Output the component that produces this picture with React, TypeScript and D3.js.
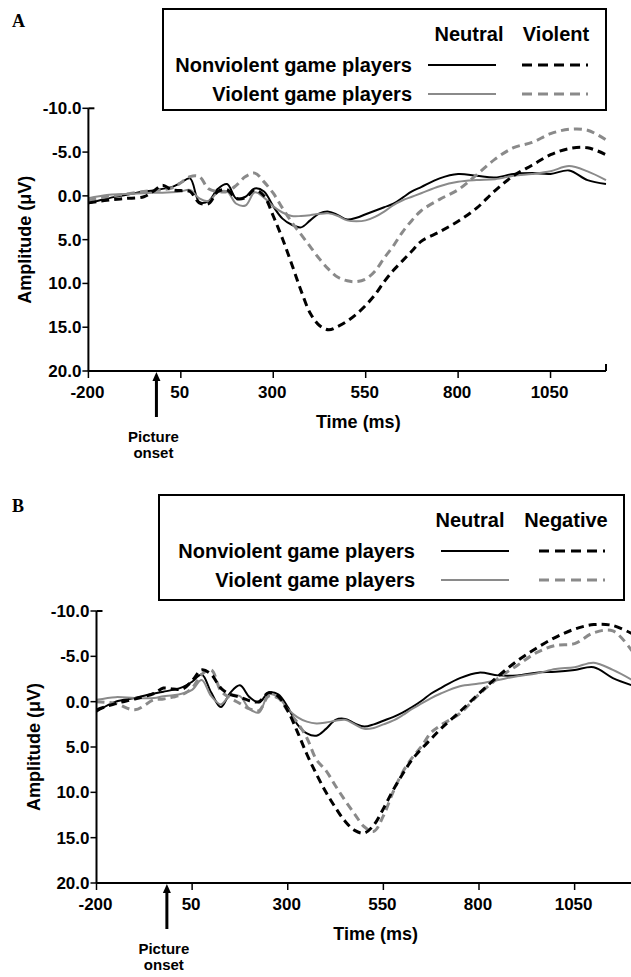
import React from 'react';
import * as d3 from 'd3';

// time grid (ms) shared by all traces
const times = [-200, -150, -100, -50, -25, 0, 25, 50, 75, 100, 125, 150, 175, 200, 225, 250, 275, 300, 325, 350,
  375, 400, 425, 450, 475, 500, 525, 550, 575, 600, 625, 650, 675, 700, 750, 800, 850, 900, 950, 1000, 1050, 1100, 1150, 1200];

const xTicks = [-200, 50, 300, 550, 800, 1050];
const yTicks = [-10, -5, 0, 5, 10, 15, 20];

// Panel A
const aNonviolentNeutral = [0.85, 0.3, -0.1, -0.5, -0.6, -0.8, -1.0, -1.5, -2.0, 0.7, 0.6, -0.8, -1.35, 0.3, 0.1, -0.85,
  -0.5, 1.2, 2.6, 3.3, 3.6, 2.8, 2.0, 1.8, 2.2, 2.7, 2.5, 2.1, 1.7, 1.3, 0.9, 0.2, -0.5, -1.0, -2.0, -2.5, -2.3, -2.1,
  -2.5, -2.6, -2.5, -2.9, -1.8, -1.35];
const aViolentNeutral = [0.27, -0.1, -0.2, -0.3, -0.35, -0.35, -0.4, -0.5, -0.67, 0.3, 0.6, -0.4, -0.5, 0.9, 1.1, -0.4,
  0.2, 1.2, 1.9, 2.3, 2.3, 2.2, 2.05, 2.0, 2.3, 2.8, 2.9, 2.8, 2.4, 1.8, 1.05, 0.5, 0.1, -0.3, -1.1, -1.6, -1.8, -1.9,
  -2.3, -2.5, -2.8, -3.4, -2.8, -1.8];
const aNonviolentViolent = [0.8, 0.5, 0.3, 0.1, -0.5, -1.2, -0.7, -0.6, -0.5, 0.8, 0.9, -0.5, -0.7, 0.3, 0.2, -0.7,
  0.0, 2.3, 4.9, 7.8, 10.8, 13.4, 14.8, 15.3, 14.9, 14.3, 13.5, 12.5, 11.3, 9.8, 8.5, 7.4, 6.3, 5.2, 4.1, 2.9, 1.4,
  -0.6, -2.3, -3.5, -4.7, -5.4, -5.5, -4.7];
const aViolentViolent = [0.5, 0.1, -0.2, -0.5, -0.6, -0.7, -0.9, -1.5, -2.2, -2.2, -0.8, -0.5, -0.5, -1.2, -2.2, -2.6,
  -1.6, -0.3, 1.4, 3.0, 4.4, 5.8, 7.2, 8.4, 9.3, 9.7, 9.8, 9.5, 8.6, 7.1, 5.7, 4.1, 2.8, 1.7, 0.4, -0.7, -2.4, -4.2,
  -5.5, -6.1, -7.1, -7.6, -7.5, -6.4];

// Panel B
const bNonviolentNeutral = [1.1, 0.0, -0.4, -0.9, -1.1, -1.3, -1.6, -2.2, -3.0, -1.0, 0.6, -1.0, -1.8, -0.5, 0.1, -1.0,
  -0.8, 0.6, 2.5, 3.5, 3.75, 3.0, 2.0, 1.9, 2.4, 2.75, 2.5, 2.1, 1.7, 1.2, 0.6, -0.1, -0.9, -1.5, -2.6, -3.2, -2.9, -2.9,
  -3.2, -3.3, -3.5, -3.8, -2.6, -1.8];
const bViolentNeutral = [-0.2, -0.5, -0.4, -0.4, -0.6, -0.7, -0.9, -1.3, -2.4, -0.6, 0.3, -0.7, -0.6, 0.8, 1.2, -0.8,
  -0.5, 0.8, 1.7, 2.2, 2.4, 2.3, 2.1, 2.0, 2.5, 3.0, 2.9, 2.5, 2.1, 1.5, 0.8, 0.2, -0.4, -0.9, -1.7, -2.0, -2.4, -2.8,
  -3.1, -3.6, -3.8, -4.3, -3.5, -2.4];
const bNonviolentNegative = [0.9, 0.2, -0.3, -0.9, -1.5, -1.4, -1.4, -2.3, -3.5, -3.0, -1.5, -0.8, -0.5, -0.1, 0.0, -1.0,
  -0.6, 1.0, 3.3, 5.8, 8.0, 10.0, 11.7, 13.2, 14.2, 14.5, 13.6, 11.8, 9.8, 8.0, 6.4, 5.2, 4.1, 3.0, 1.1, -0.9, -2.8,
  -4.5, -5.9, -7.1, -8.0, -8.5, -8.4, -7.5];
const bViolentNegative = [0.0, 0.2, 0.9, -0.2, -0.3, -0.5, -0.8, -1.5, -3.0, -3.5, -1.2, -0.4, 0.2, 0.8, 1.0, -0.6,
  -0.4, 1.0, 2.3, 4.0, 6.4, 7.6, 9.3, 10.9, 12.4, 13.8, 14.3, 12.6, 10.0, 7.8, 6.2, 4.9, 3.4, 2.6, 1.3, -0.8, -2.6,
  -4.0, -5.4, -6.2, -6.4, -7.6, -7.8, -5.6];

const BLACK = '#000';
const GRAY = '#8a8a8a';
const FONT = '"Liberation Sans", Arial, sans-serif';

type Series = { values: number[]; color: string; dashed: boolean };

type PanelProps = {
  letter: string;
  top: number;
  x0: number; x1: number;
  y0: number; y1: number;
  box: { x: number; y: number; w: number; h: number };
  labelRight: number;
  headNeutral: number; headOther: number; otherLabel: string;
  solidMid: number; dashMid: number;
  series: Series[];
};

function Panel(p: PanelProps) {
  const x = d3.scaleLinear().domain([-200, 1200]).range([p.x0, p.x1]);
  const y = d3.scaleLinear().domain([-10, 20]).range([p.y0, p.y1]);
  const line = d3.line<number>()
    .x((_, i) => x(times[i]))
    .y(d => y(d))
    .curve(d3.curveCatmullRom.alpha(0.5));
  const b = p.box;
  const row1 = b.y + 56;
  const row2 = b.y + 85;
  const onset = x(-16);
  const yBase = y(20);
  return (
    <g fontFamily={FONT} fontWeight="bold">
      <text x={12} y={p.top} fontFamily='"Liberation Serif", serif' fontSize={18}>{p.letter}</text>
      {p.series.map((s, i) => (
        <path key={i} d={line(s.values) || ''} fill="none" stroke={s.color}
          strokeWidth={s.dashed ? 3 : 2} strokeDasharray={s.dashed ? '8,5' : undefined} />
      ))}
      <rect x={b.x} y={b.y} width={b.w} height={b.h} fill="none" stroke="#000" strokeWidth={2} />
      <text x={p.headNeutral} y={b.y + 32} fontSize={20} textAnchor="middle">Neutral</text>
      <text x={p.headOther} y={b.y + 32} fontSize={20} textAnchor="middle">{p.otherLabel}</text>
      <text x={p.labelRight} y={row1 + 7} fontSize={20} textAnchor="end">Nonviolent game players</text>
      <text x={p.labelRight} y={row2 + 7} fontSize={20} textAnchor="end">Violent game players</text>
      <line x1={p.solidMid - 34} x2={p.solidMid + 34} y1={row1} y2={row1} stroke={BLACK} strokeWidth={2} />
      <line x1={p.dashMid - 33} x2={p.dashMid + 33} y1={row1} y2={row1} stroke={BLACK} strokeWidth={3} strokeDasharray="10,6" />
      <line x1={p.solidMid - 34} x2={p.solidMid + 34} y1={row2} y2={row2} stroke={GRAY} strokeWidth={2} />
      <line x1={p.dashMid - 33} x2={p.dashMid + 33} y1={row2} y2={row2} stroke={GRAY} strokeWidth={3} strokeDasharray="10,6" />
      {/* axes */}
      <line x1={p.x0} x2={p.x0} y1={p.y0} y2={yBase} stroke="#000" strokeWidth={2} />
      <line x1={p.x0} x2={p.x0 + 6} y1={p.y0} y2={p.y0} stroke="#000" strokeWidth={2} />
      <line x1={p.x0} x2={p.x1} y1={yBase} y2={yBase} stroke="#000" strokeWidth={2} />
      <line x1={p.x1} x2={p.x1} y1={yBase} y2={yBase - 7} stroke="#000" strokeWidth={2} />
      {yTicks.map(t => (
        <g key={t}>
          <line x1={p.x0 - 6} x2={p.x0} y1={y(t)} y2={y(t)} stroke="#000" strokeWidth={1.5} />
          <text x={p.x0 - 7} y={y(t) + 6} fontSize={17} textAnchor="end">{t.toFixed(1)}</text>
        </g>
      ))}
      {xTicks.map(t => (
        <g key={t}>
          <line x1={x(t)} x2={x(t)} y1={yBase} y2={yBase + 7} stroke="#000" strokeWidth={1.5} />
          <text x={x(t) - 1} y={yBase + 27} fontSize={17} textAnchor="middle">{t}</text>
        </g>
      ))}
      <text x={x(530)} y={yBase + 57} fontSize={18} textAnchor="middle">Time (ms)</text>
      <text transform={`translate(${p.x0 - 57},${(p.y0 + yBase) / 2}) rotate(-90)`} fontSize={18} textAnchor="middle">Amplitude (μV)</text>
      {/* picture onset arrow */}
      <line x1={onset} x2={onset} y1={yBase + 8} y2={yBase + 46} stroke="#000" strokeWidth={3} />
      <path d={`M${onset - 4},${yBase + 10} L${onset},${yBase + 1} L${onset + 4},${yBase + 10} Z`} fill="#000" />
      <text x={onset - 3} y={yBase + 71} fontSize={15} textAnchor="middle">Picture</text>
      <text x={onset - 3} y={yBase + 87} fontSize={15} textAnchor="middle">onset</text>
    </g>
  );
}

export default function App() {
  return (
    <div style={{ position: 'absolute', left: 0, top: 0, width: 631, height: 977, background: '#fff' }}>
      <svg width={631} height={977}>
        <Panel letter="A" top={27} x0={88.4} x1={606} y0={108.3} y1={371}
          box={{ x: 163, y: 9, w: 443, h: 101 }} labelRight={412}
          headNeutral={469} headOther={556} otherLabel="Violent" solidMid={462} dashMid={555}
          series={[
            { values: aNonviolentNeutral, color: BLACK, dashed: false },
            { values: aViolentNeutral, color: GRAY, dashed: false },
            { values: aViolentViolent, color: GRAY, dashed: true },
            { values: aNonviolentViolent, color: BLACK, dashed: true },
          ]} />
        <Panel letter="B" top={512} x0={96.5} x1={632} y0={611} y1={883}
          box={{ x: 159, y: 495, w: 465, h: 105 }} labelRight={415}
          headNeutral={470} headOther={566} otherLabel="Negative" solidMid={475} dashMid={572}
          series={[
            { values: bNonviolentNeutral, color: BLACK, dashed: false },
            { values: bViolentNeutral, color: GRAY, dashed: false },
            { values: bViolentNegative, color: GRAY, dashed: true },
            { values: bNonviolentNegative, color: BLACK, dashed: true },
          ]} />
      </svg>
    </div>
  );
}
